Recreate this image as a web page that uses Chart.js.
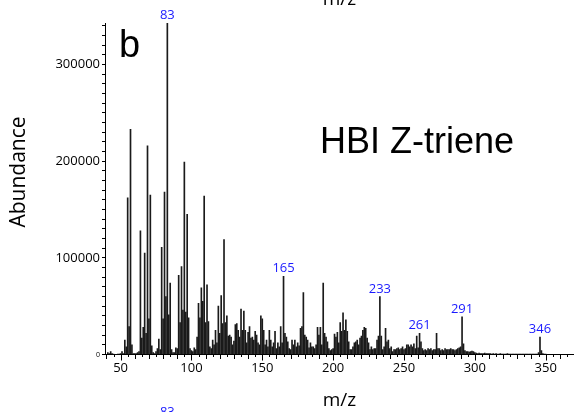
<!DOCTYPE html>
<html>
<head>
<meta charset="utf-8">
<script src="https://cdn.jsdelivr.net/npm/chart.js@4.4.1/dist/chart.umd.min.js"></script>
<style>
  html, body { margin: 0; padding: 0; background: #fff; }
  canvas { display: block; }
</style>
</head>
<body>
<canvas id="msChart" width="574" height="412"></canvas>
<script>
// one bar per integer mass, starting at m/z 41
const firstMz = 41;

// abundance in thousands (m/z 41 .. 350)
const abundanceK = [
  2, 1, 3, 1, 0.5, 0, 0, 0.5, 0.5, 1,            // 41-50
  3, 1, 15, 8, 162, 29, 233, 10, 1, 1,           // 51-60
  1, 2, 3, 128, 17, 28, 105, 22, 216, 37,        // 61-70
  165, 9, 2, 1, 3, 6, 16, 5, 111, 37,            // 71-80
  168, 60, 343, 41, 74, 5, 2, 2, 7, 6,           // 81-90
  82, 33, 91, 46, 199, 44, 145, 38, 6, 4,        // 91-100
  3, 7, 5, 18, 53, 38, 69, 55, 164, 33,          // 101-110
  72, 34, 8, 6, 15, 10, 25, 12, 50, 22,          // 111-120
  61, 32, 119, 33, 40, 19, 20, 18, 10, 14,       // 121-130
  31, 32, 25, 18, 47, 25, 45, 25, 12, 23,        // 131-140
  29, 17, 18, 15, 24, 20, 12, 10, 40, 37,        // 141-150
  25, 10, 15, 8, 25, 15, 8, 12, 24, 6,           // 151-160
  12, 8, 29, 12, 81, 22, 18, 13, 6, 5,           // 161-170
  15, 10, 15, 8, 12, 9, 27, 29, 64, 20,          // 171-180
  18, 15, 7, 12, 8, 8, 6, 10, 28, 20,            // 181-190
  28, 10, 74, 22, 18, 13, 6, 4, 5, 6,            // 191-200
  21, 18, 23, 12, 33, 24, 43, 25, 36, 24,        // 201-210
  13, 5, 5, 8, 12, 13, 15, 10, 17, 19,           // 211-220
  25, 28, 27, 17, 12, 5, 8, 5, 6, 6,             // 221-230
  15, 19, 60, 19, 5, 8, 27, 13, 15, 6,           // 231-240
  8, 3, 5, 5, 6, 7, 5, 6, 8, 5,                  // 241-250
  6, 10, 10, 8, 10, 8, 11, 6, 19, 7,             // 251-260
  22, 13, 6, 4, 5, 4, 6, 5, 6, 4,                // 261-270
  5, 5, 22, 6, 6, 4, 5, 4, 6, 5,                 // 271-280
  5, 5, 6, 5, 5, 4, 5, 6, 7, 8,                  // 281-290
  39, 11, 4, 3, 3, 2.5, 3, 3.5, 3, 2,            // 291-300
  1.5, 1, 1.5, 1, 1, 1, 1.5, 1, 1, 1,            // 301-310
  1, 0.5, 1, 0.5, 1, 0.5, 0.5, 1, 0.5, 0.5,      // 311-320
  0.5, 0.5, 1, 0.5, 0.5, 0.5, 0.5, 0.5, 0.5, 0.5,// 321-330
  0.5, 0.5, 0.5, 0.5, 0.5, 0.5, 0.5, 0.5, 0.5, 0.5,// 331-340
  0.5, 0.5, 0.5, 0.5, 2, 18, 4, 1, 0.5, 0.5      // 341-350
];

const mz = abundanceK.map((_, i) => firstMz + i);
const abundance = abundanceK.map(v => v * 1000);

const labelledPeaks = [83, 165, 233, 261, 291, 346];
const xTickValues = [50, 100, 150, 200, 250, 300, 350];
const yLabelValues = [0, 100000, 200000, 300000];

const FONT = '"Open Sans", sans-serif';

const extras = {
    id: 'extras',
    afterDraw(chart) {
        const { ctx, scales: { x, y } } = chart;
        ctx.save();

        // x ticks every 5, longer on tens and fifties
        ctx.strokeStyle = '#000';
        ctx.lineWidth = 1;
        for (let m = 40; m <= 370; m += 5) {
            const px = Math.round(x.getPixelForValue(m)) + 0.5;
            const len = m % 50 === 0 ? 6 : (m % 10 === 0 ? 4.5 : 2.5);
            ctx.beginPath();
            ctx.moveTo(px, y.bottom);
            ctx.lineTo(px, y.bottom + len);
            ctx.stroke();
        }

        // peak labels
        ctx.fillStyle = '#1a1aff';
        ctx.font = '13px ' + FONT;
        ctx.textAlign = 'center';
        ctx.textBaseline = 'bottom';
        labelledPeaks.forEach(m => {
            const v = abundance[mz.indexOf(m)];
            ctx.fillText(String(m), x.getPixelForValue(m), y.getPixelForValue(v) - 1);
        });
        // cut-off label of the panel below
        ctx.textBaseline = 'top';
        ctx.fillText('83', x.getPixelForValue(83), 406);

        // axis title (y)
        ctx.fillStyle = '#000';
        ctx.save();
        ctx.translate(19, 172);
        ctx.rotate(-Math.PI / 2);
        ctx.textBaseline = 'middle';
        ctx.font = '21px ' + FONT;
        ctx.fillText('Abundance', 0, 0);
        ctx.restore();

        // cut-off axis title of the panel above
        ctx.font = '19px ' + FONT;
        ctx.textBaseline = 'alphabetic';
        ctx.fillText('m/z', (x.left + x.right) / 2, 5);

        // panel letter and compound name
        ctx.textAlign = 'left';
        ctx.font = '38px "Liberation Sans", Arial, sans-serif';
        ctx.fillText('b', 119, 57);
        ctx.font = '36px "Liberation Sans", Arial, sans-serif';
        ctx.fillText('HBI Z-triene', 320, 153);

        ctx.restore();
    }
};

new Chart(document.getElementById('msChart'), {
    type: 'bar',
    data: {
        datasets: [{
            data: mz.map((m, i) => ({ x: m, y: abundance[i] })),
            backgroundColor: '#1a1a1a',
            borderWidth: 0,
            barThickness: 1
        }]
    },
    options: {
        responsive: false,
        animation: false,
        devicePixelRatio: 1,
        layout: { padding: { top: 23, left: 0, right: 0, bottom: 0 } },
        plugins: {
            legend: { display: false },
            tooltip: { enabled: false }
        },
        scales: {
            x: {
                type: 'linear',
                min: 39,
                max: 370,
                offset: false,
                afterFit: s => { s.height = 57.5; },
                afterBuildTicks: s => { s.ticks = xTickValues.map(v => ({ value: v })); },
                grid: { display: true, drawOnChartArea: false, drawTicks: false, offset: false },
                border: { color: '#000', width: 1 },
                ticks: {
                    autoSkip: false,
                    maxRotation: 0,
                    padding: 6,
                    color: '#000',
                    font: { family: FONT, size: 13 }
                },
                title: {
                    display: true,
                    text: 'm/z',
                    color: '#000',
                    padding: { top: 0, bottom: 0 },
                    font: { family: FONT, size: 19 }
                }
            },
            y: {
                min: 0,
                max: 343000,
                afterFit: s => { s.width = 105; },
                afterBuildTicks: s => {
                    const t = [];
                    for (let v = 0; v <= 340000; v += 10000) t.push({ value: v });
                    s.ticks = t;
                },
                grid: { drawOnChartArea: false, drawTicks: true, tickLength: 3, tickColor: '#000' },
                border: { color: '#000', width: 1 },
                ticks: {
                    autoSkip: false,
                    padding: 2,
                    color: '#000',
                    callback: v => yLabelValues.includes(v) ? String(v) : '',
                    font: c => (c.tick && c.tick.value === 0)
                        ? { family: FONT, size: 7 }
                        : { family: FONT, size: 13 }
                }
            }
        }
    },
    plugins: [extras]
});
</script>
</body>
</html>
